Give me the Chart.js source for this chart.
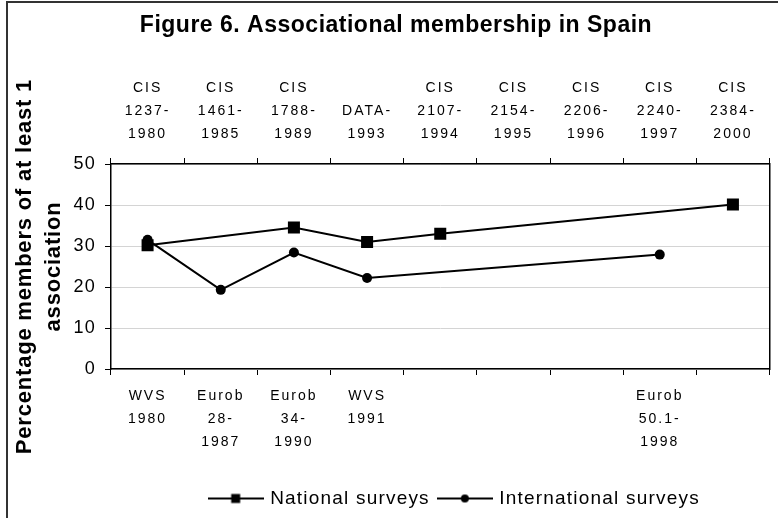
<!DOCTYPE html>
<html>
<head>
<meta charset="utf-8">
<script src="https://cdn.jsdelivr.net/npm/chart.js@4.4.1/dist/chart.umd.min.js"></script>
<style>
  body { margin: 0; background: #fff; overflow: hidden; }
  #wrap { position: relative; width: 778px; height: 518px; }
  #frame { position: absolute; left: 6px; top: 1px; width: 900px; height: 700px; border: 2px solid #333; pointer-events: none; }
</style>
</head>
<body>
<div id="wrap">
  <canvas id="chart" width="778" height="518"></canvas>
  <div id="frame"></div>
</div>
<script>
// ---- data ----
const nationalLabels = [
  ['CIS', '1237-', '1980'], ['CIS', '1461-', '1985'], ['CIS', '1788-', '1989'],
  ['DATA-', '1993'], ['CIS', '2107-', '1994'], ['CIS', '2154-', '1995'],
  ['CIS', '2206-', '1996'], ['CIS', '2240-', '1997'], ['CIS', '2384-', '2000']
];
const internationalLabels = [
  ['WVS', '1980'], ['Eurob', '28-', '1987'], ['Eurob', '34-', '1990'], ['WVS', '1991'],
  '', '', '', ['Eurob', '50.1-', '1998'], ''
];
const nationalValues = [30.2, null, 34.5, 31.0, 33.0, null, null, null, 40.1];
const internationalValues = [31.5, 19.3, 28.4, 22.2, null, null, null, 27.9, null];
const yTicks = [0, 10, 20, 30, 40, 50];

const FONT = "'Liberation Sans', Arial, sans-serif";

// line + marker icon for the legend (Excel style)
function legendIcon(kind) {
  const c = document.createElement('canvas');
  c.width = 56; c.height = 12;
  const g = c.getContext('2d');
  g.strokeStyle = '#000';
  g.fillStyle = '#000';
  g.lineWidth = 2;
  g.beginPath(); g.moveTo(0, 6); g.lineTo(56, 6); g.stroke();
  if (kind === 'rect') {
    g.fillRect(23.5, 1.5, 9, 9);
  } else {
    g.beginPath(); g.arc(28, 6, 4, 0, Math.PI * 2); g.fill();
  }
  return c;
}
const icons = [legendIcon('rect'), legendIcon('circle')];

function withSpacing(obj, method, spacing) {
  const orig = obj[method];
  obj[method] = function () {
    this.ctx.save();
    this.ctx.letterSpacing = spacing;
    orig.apply(this, arguments);
    this.ctx.restore();
  };
}

// the text in the original is rendered wide / letter-spaced
const wideText = {
  id: 'wideText',
  afterInit(chart) {
    chart.ctx.letterSpacing = '1.2px';
  },
  afterLayout(chart) {
    // legend sits a bit right of the plot centre in the original
    chart.legend.left += 15;
    chart.legend.right += 15;
  },
  beforeDraw(chart) {
    if (chart._wideDone) return;
    withSpacing(chart.scales.x, 'drawLabels', '2px');
    withSpacing(chart.scales.x2, 'drawLabels', '2px');
    withSpacing(chart.scales.y, 'drawTitle', '0.8px');
    withSpacing(chart.titleBlock, 'draw', '0.5px');
    chart._wideDone = true;
  }
};

const catTicks = {
  color: '#000',
  font: { family: FONT, size: 14, lineHeight: 1.64 },
  autoSkip: false,
  maxRotation: 0,
  minRotation: 0
};

new Chart(document.getElementById('chart'), {
  type: 'line',
  data: {
    labels: internationalLabels,
    datasets: [
      {
        label: 'National surveys',
        data: nationalValues,
        borderColor: '#000',
        backgroundColor: '#000',
        borderWidth: 2,
        pointStyle: 'rect',
        pointRadius: 8.5,
        pointBorderWidth: 0,
        spanGaps: true,
        tension: 0
      },
      {
        label: 'International surveys',
        data: internationalValues,
        borderColor: '#000',
        backgroundColor: '#000',
        borderWidth: 2,
        pointStyle: 'circle',
        pointRadius: 5,
        pointBorderWidth: 0,
        spanGaps: true,
        tension: 0
      }
    ]
  },
  options: {
    responsive: false,
    animation: false,
    layout: { padding: { left: 14, right: 0, top: 0, bottom: 0 } },
    plugins: {
      title: {
        display: true,
        text: 'Figure 6. Associational membership in Spain',
        color: '#000',
        font: { family: FONT, size: 23, weight: 'bold', lineHeight: 1.2 },
        padding: { top: 12, bottom: 0 }
      },
      legend: {
        position: 'bottom',
        fullSize: false,
        labels: {
          color: '#000',
          font: { family: FONT, size: 19 },
          usePointStyle: true,
          pointStyleWidth: 50,
          padding: 10,
          generateLabels(chart) {
            const items = Chart.defaults.plugins.legend.labels.generateLabels(chart);
            items.forEach((it, i) => { it.pointStyle = icons[i]; });
            return items;
          }
        }
      },
      tooltip: { enabled: false }
    },
    scales: {
      x: {
        type: 'category',
        position: 'bottom',
        offset: true,
        grid: { offset: true, drawOnChartArea: false, color: '#000', tickLength: 6, lineWidth: 1 },
        border: { color: '#000', width: 1.5 },
        ticks: Object.assign({ padding: 10 }, catTicks),
        afterFit(s) { s.height = 110; }
      },
      x2: {
        type: 'category',
        position: 'top',
        labels: nationalLabels,
        offset: true,
        grid: { offset: true, drawOnChartArea: false, color: '#000', tickLength: 6, lineWidth: 1 },
        border: { color: '#000', width: 1.5 },
        ticks: Object.assign({ padding: 12 }, catTicks),
        afterFit(s) { s.height = 124.4; }
      },
      y: {
        min: 0,
        max: 50,
        afterBuildTicks(s) { s.ticks = yTicks.map(v => ({ value: v })); },
        grid: { color: '#d4d4d4', tickColor: '#000', tickLength: 6, lineWidth: 1 },
        border: { color: '#000', width: 1.5 },
        ticks: { color: '#000', padding: 9, font: { family: FONT, size: 18 } },
        title: {
          display: true,
          text: ['Percentage members of at least 1', 'association'],
          color: '#000',
          font: { family: FONT, size: 22, weight: 'bold', lineHeight: 1.3 },
          padding: { top: -3, bottom: 0 }
        },
        afterFit(s) { s.width = 97; }
      },
      yR: {
        position: 'right',
        min: 0,
        max: 50,
        grid: { display: false, drawTicks: false },
        border: { color: '#000', width: 1.5 },
        ticks: { display: false },
        afterFit(s) { s.width = 6; }
      }
    }
  },
  plugins: [wideText]
});
</script>
</body>
</html>
